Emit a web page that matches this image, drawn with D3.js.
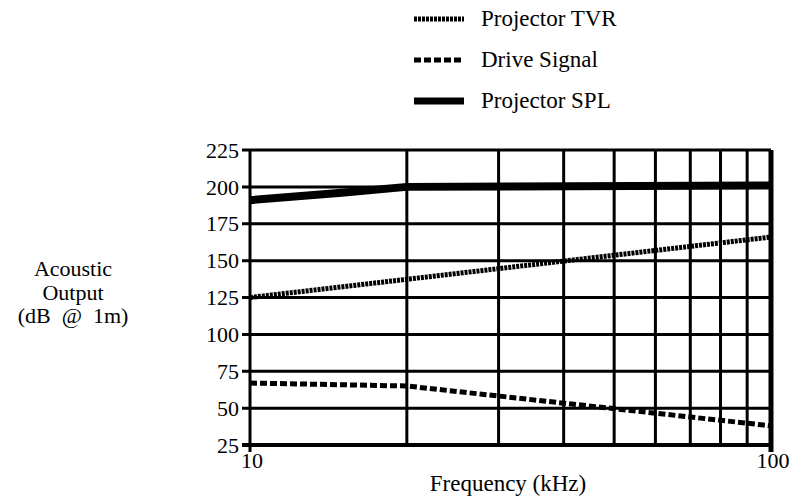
<!DOCTYPE html>
<html>
<head>
<meta charset="utf-8">
<script src="https://cdn.jsdelivr.net/npm/d3@7"></script>
<style>
  body { margin: 0; background: #fff; }
  text { font-family: "Liberation Serif", "DejaVu Serif", serif; fill: #000; }
</style>
</head>
<body>
<div id="chart"></div>
<script>
// data
const seriesNames = ["Projector TVR", "Drive Signal", "Projector SPL"]
const tvrFreq = [10, 100]
const tvrDb = [125, 166]
const driveFreq = [10, 20, 100]
const driveDb = [67, 65, 38]
const splFreq = [10, 15, 20, 100]
const splDb = [191, 196, 200, 201]
const yTicks = [25, 50, 75, 100, 125, 150, 175, 200, 225]
const xGrid = [10, 20, 30, 40, 50, 60, 70, 80, 90, 100]
const xLabels = [10, 100]

let width = 790, height = 498
let margin = { top: 150, right: 19, bottom: 53, left: 250 }

let svg = d3.select("#chart").append("svg")
    .attr("width", width)
    .attr("height", height)

let x = d3.scaleLog().domain([10, 100]).range([margin.left, width - margin.right])
let y = d3.scaleLinear().domain([25, 225]).range([height - margin.bottom, margin.top])

// grid
svg.selectAll(".hgrid")
    .data(yTicks)
    .enter()
    .append("line")
    .attr("x1", x(10) - 8)
    .attr("x2", x(100))
    .attr("y1", d => y(d))
    .attr("y2", d => y(d))
    .attr("stroke", "#000")
    .attr("stroke-width", d => d === 25 ? 4 : 3)

svg.selectAll(".vgrid")
    .data(xGrid)
    .enter()
    .append("line")
    .attr("x1", d => x(d))
    .attr("x2", d => x(d))
    .attr("y1", y(225))
    .attr("y2", d => (d === 10 || d === 100) ? y(25) + 7 : y(25))
    .attr("stroke", "#000")
    .attr("stroke-width", d => d === 100 ? 5 : 3)

// tick labels
svg.selectAll(".ylab")
    .data(yTicks)
    .enter()
    .append("text")
    .attr("x", x(10) - 11)
    .attr("y", d => y(d))
    .attr("dy", "0.35em")
    .attr("text-anchor", "end")
    .style("font-size", "22px")
    .text(d => d)

svg.selectAll(".xlab")
    .data(xLabels)
    .enter()
    .append("text")
    .attr("x", d => x(d) + 2)
    .attr("y", y(25) + 23)
    .attr("text-anchor", "middle")
    .style("font-size", "22px")
    .text(d => d)

svg.append("text")
    .attr("x", 508)
    .attr("y", 491)
    .attr("text-anchor", "middle")
    .style("font-size", "23px")
    .text("Frequency (kHz)")

let ytitle = svg.append("text")
    .attr("text-anchor", "middle")
    .style("font-size", "22px")
    .style("white-space", "pre")
ytitle.selectAll("tspan")
    .data(["Acoustic", "Output", "(dB  @  1m)"])
    .enter()
    .append("tspan")
    .attr("x", 73)
    .attr("y", (d, i) => 276 + i * 23.5)
    .text(d => d)

// series
let styles = [
    { w: 5, dash: "3,1" },
    { w: 5, dash: "7,3" },
    { w: 8, dash: null }
]
let series = [
    d3.zip(tvrFreq, tvrDb),
    d3.zip(driveFreq, driveDb),
    d3.zip(splFreq, splDb)
]
let line = d3.line().x(d => x(d[0])).y(d => y(d[1]))

series.forEach((s, i) => {
    svg.append("path")
        .attr("d", line(s))
        .attr("fill", "none")
        .attr("stroke", "#000")
        .attr("stroke-width", styles[i].w)
        .attr("stroke-dasharray", styles[i].dash)
})

// legend
let legend = svg.selectAll(".legend")
    .data(seriesNames)
    .enter()
    .append("g")
    .attr("transform", (d, i) => "translate(0," + (19 + i * 41) + ")")

legend.append("line")
    .attr("x1", 414)
    .attr("x2", 464)
    .attr("y1", 0)
    .attr("y2", 0)
    .attr("stroke", "#000")
    .attr("stroke-width", (d, i) => i === 2 ? 7 : styles[i].w)
    .attr("stroke-dasharray", (d, i) => styles[i].dash)

legend.append("text")
    .attr("x", 481)
    .attr("y", 0)
    .attr("dy", "0.32em")
    .style("font-size", "23px")
    .text(d => d)
</script>
</body>
</html>
